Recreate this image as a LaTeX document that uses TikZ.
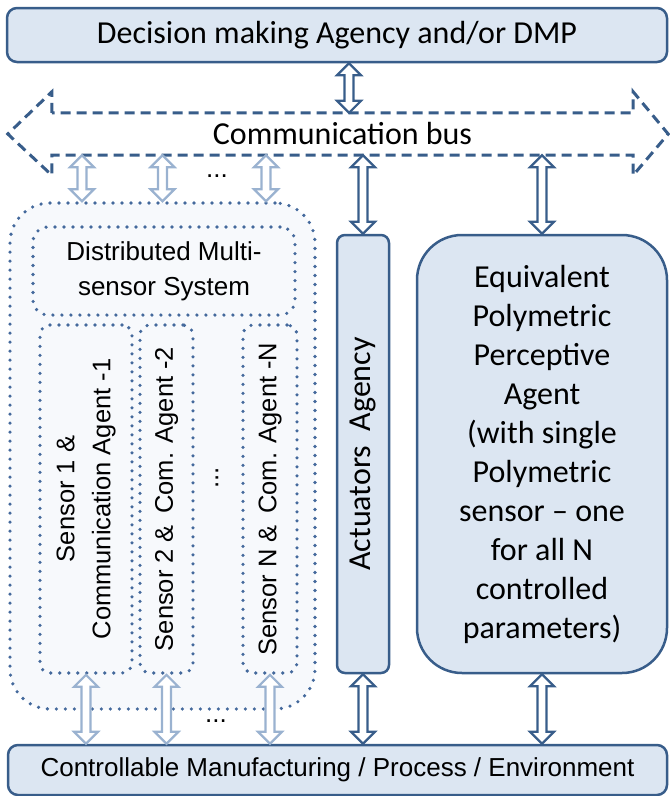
\documentclass[tikz,border=0pt]{standalone}
\usepackage{fontspec}
\usetikzlibrary{calc}
\newfontfamily\calib{Carlito}
\newfontfamily\arialf{Liberation Sans}
\definecolor{dkblue}{HTML}{385D8A}
\definecolor{boxfill}{HTML}{DCE6F2}
\definecolor{ltblue}{HTML}{9AB2D0}
\definecolor{dotblue}{HTML}{44699C}
\definecolor{dotfill}{HTML}{F7F9FC}
\newcommand\dblarrow[3][dkarrow]{%
  \draw[#1] let \p1=(#2), \p2=(#3) in
    (\x1,\y1)--(\x1+12pt,\y1-12pt)--(\x1+4.5pt,\y1-12pt)--(\x1+4.5pt,\y2+12pt)
    --(\x1+12pt,\y2+12pt)--(\x1,\y2)--(\x1-12pt,\y2+12pt)--(\x1-4.5pt,\y2+12pt)
    --(\x1-4.5pt,\y1-12pt)--(\x1-12pt,\y1-12pt)--cycle;}
\begin{document}
\begin{tikzpicture}[x=1pt,y=-1pt,
  box/.style={draw=dkblue, line width=2.5pt, fill=boxfill, rounded corners=10pt},
  dotbox/.style={draw=dotblue, line width=3.6pt, dash pattern=on 0pt off 9pt, line cap=round, fill=dotfill},
  dkarrow/.style={draw=dkblue, line width=2.2pt, fill=white},
  ltarrow/.style={draw=ltblue, line width=2.2pt, fill=white},
  busline/.style={draw=dkblue, line width=3pt, dash pattern=on 10pt off 6pt, fill=white},
  cfont/.style={font=\calib\fontsize{32}{39}\selectfont},
  afont/.style={font=\arialf\fontsize{26}{35}\selectfont},
  sfont/.style={font=\arialf\fontsize{25.5}{36}\selectfont}]
  \useasboundingbox (0,0) rectangle (670,796);
  \node[box, cfont, minimum width=660pt, minimum height=54pt] (dmp) at (337,35) {Decision making Agency and/or DMP};
  \node[cfont, inner sep=0, minimum width=581pt, minimum height=42pt] (bus) at (342.5,134) {};
  \draw[busline] (bus.north west) -- ([yshift=21pt]bus.north west) -- ([xshift=-44pt]bus.west)
    -- ([yshift=-20pt]bus.south west) -- (bus.south west) -- (bus.south east)
    -- ([yshift=-20pt]bus.south east) -- ([xshift=35pt]bus.east)
    -- ([yshift=21pt]bus.north east) -- (bus.north east) -- cycle;
  \node[cfont, inner sep=0] (bust) at (bus) {Communication bus};
  \node[dotbox, rounded corners=40pt, minimum width=305pt, minimum height=506pt] (dms) at (162.5,456) {};
  \node[dotbox, rounded corners=15pt, minimum width=262pt, minimum height=88pt, afont, align=center] (dist) at (164,271) {Distributed Multi-\\sensor System};
  \node[dotbox, rounded corners=10pt, minimum width=92pt, minimum height=348pt] (s1) at (86,499) {};
  \node[dotbox, rounded corners=10pt, minimum width=53pt, minimum height=348pt] (s2) at (166.5,499) {};
  \node[dotbox, rounded corners=10pt, minimum width=54pt, minimum height=348pt] (sN) at (270,499) {};
  \node[sfont, rotate=90, align=center] (s1t) at (s1) {Sensor 1 \&\\Communication Agent -1};
  \node[sfont, rotate=90] (s2t) at (s2) {Sensor 2 \& \,Com. Agent -2};
  \node[sfont, rotate=90] (sNt) at (sN) {Sensor N \& \,Com. Agent -N};
  \node[afont, rotate=90, inner sep=0] (vdots) at (217,478) {...};
  \node[box, rounded corners=8pt, minimum width=52pt, minimum height=438pt] (act) at (363,454) {};
  \node[cfont, rotate=90] (actt) at (act) {Actuators\ \ Agency};
  \node[box, rounded corners=45pt, minimum width=250pt, minimum height=438pt, cfont, align=center] (eq) at (542,454)
    {Equivalent\\Polymetric\\Perceptive\\Agent\\(with single\\Polymetric\\sensor – one\\for all N\\controlled\\parameters)};
  \node[box, afont, minimum width=659pt, minimum height=50pt] (plant) at (337.5,770) {Controllable Manufacturing / Process / Environment};
  \dblarrow{[xshift=12pt]dmp.south}{bus.north}
  \dblarrow{bus.south -| act.north}{act.north}
  \dblarrow{act.south}{plant.north}
  \dblarrow{bus.south -| eq.north}{eq.north}
  \dblarrow{eq.south}{plant.north}
  \foreach \s in {s1,s2,sN}{
    \dblarrow[ltarrow]{[xshift=-4pt]bus.south -| \s.north}{dms.north}
    \dblarrow[ltarrow]{\s.south}{plant.north}}
  \node[afont, inner sep=0] (dtop) at (217,176) {...};
  \node[afont, inner sep=0] (dbot) at (216,721) {...};
\end{tikzpicture}
\end{document}
